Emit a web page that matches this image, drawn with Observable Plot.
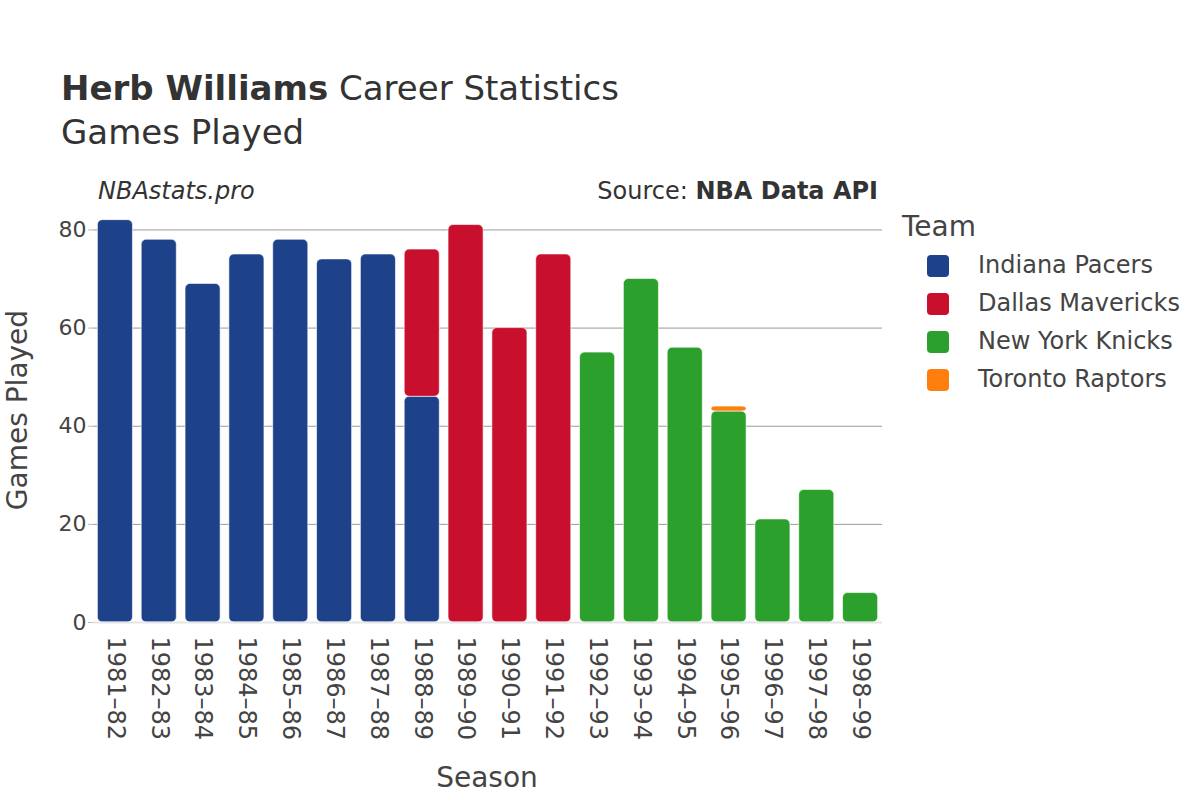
<!DOCTYPE html>
<html>
<head>
<meta charset="utf-8">
<script src="https://cdn.jsdelivr.net/npm/d3@7"></script>
<script src="https://cdn.jsdelivr.net/npm/@observablehq/plot@0.6"></script>
<style>
  html, body { margin: 0; padding: 0; background: #fff; }
  #root { position: relative; width: 1200px; height: 800px; font-family: "DejaVu Sans", sans-serif; color: #444; overflow: hidden; }
  .abs { position: absolute; white-space: nowrap; }
  #chart { position: absolute; left: 0; top: 0; }
  .leg-item { position: absolute; left: 927px; white-space: nowrap; }
  .sw { position: absolute; width: 22px; height: 22px; border-radius: 4px; }
  .lab { position: absolute; left: 51px; font-size: 24px; color: #444; white-space: nowrap; }
</style>
</head>
<body>
<div id="root">
  <div class="abs" style="left:61px; top:68px; font-size:34px; color:#333;"><b>Herb Williams</b> Career Statistics</div>
  <div class="abs" style="left:61px; top:112px; font-size:34px; color:#333;">Games Played</div>
  <div class="abs" style="left:98px; top:177px; font-size:24px; font-style:italic; color:#333;">NBAstats.pro</div>
  <div class="abs" style="right:322px; top:177px; font-size:24px; color:#333;">Source: <b>NBA Data API</b></div>
  <div id="chart"></div>
  <div class="abs" style="left:902px; top:210px; font-size:28px; color:#444;">Team</div>
  <div id="legend"></div>
  <div class="abs" style="left:17px; top:410px; font-size:28px; color:#444; transform: translate(-50%,-50%) rotate(-90deg);">Games Played</div>
  <div class="abs" style="left:487px; top:761px; font-size:28px; color:#444; transform: translateX(-50%);">Season</div>
</div>
<script>
const seasons = ["1981–82","1982–83","1983–84","1984–85","1985–86","1986–87","1987–88","1988–89","1989–90","1990–91","1991–92","1992–93","1993–94","1994–95","1995–96","1996–97","1997–98","1998–99"];
const teams = ["Indiana Pacers","Dallas Mavericks","New York Knicks","Toronto Raptors"];
const teamColors = ["#1d428a","#c8102e","#2ca02c","#ff7f0e"];
const pacersGP    = [82,78,69,75,78,74,75,46,null,null,null,null,null,null,null,null,null,null];
const mavericksGP = [null,null,null,null,null,null,null,30,81,60,75,null,null,null,null,null,null,null];
const knicksGP    = [null,null,null,null,null,null,null,null,null,null,null,55,70,56,43,21,27,6];
const raptorsGP   = [null,null,null,null,null,null,null,null,null,null,null,null,null,null,1,null,null,null];
const yTicks = [0,20,40,60,80];

const series = [pacersGP, mavericksGP, knicksGP, raptorsGP];
const rows = [];
series.forEach((vals, ti) => {
  vals.forEach((v, si) => {
    if (v != null) rows.push({season: seasons[si], team: teams[ti], games: v});
  });
});

const plot = Plot.plot({
  width: 890,
  height: 800,
  marginLeft: 93,
  marginRight: 8,
  marginTop: 200,
  marginBottom: 178,
  style: {fontFamily: "DejaVu Sans, sans-serif", fontSize: "22px", color: "#444", background: "transparent"},
  x: {domain: seasons, paddingInner: 0.2, paddingOuter: 0.1, round: false, label: null},
  y: {domain: [0, 86], label: null},
  color: {domain: teams, range: teamColors},
  marks: [
    Plot.gridY(yTicks.filter(d => d > 0), {stroke: "#999", strokeOpacity: 1, strokeWidth: 1}),
    Plot.barY(rows, {x: "season", y: "games", fill: "team", stroke: "white", strokeWidth: 0.6, rx: 5}),
    Plot.ruleY([0], {stroke: "#e6e6e6", strokeWidth: 2}),
    Plot.axisY({ticks: yTicks, tickSize: 5, tickPadding: 2, stroke: "#bbb", fill: "#444", label: null, fontSize: 22}),
    Plot.axisX({tickRotate: 90, tickSize: 0, tickPadding: 14, fill: "#444", label: null, fontSize: 24})
  ]
});
document.getElementById("chart").appendChild(plot);

const legend = document.getElementById("legend");
teams.forEach((t, i) => {
  const item = document.createElement("div");
  item.className = "leg-item";
  item.style.top = (255 + i * 38) + "px";
  item.innerHTML = `<div class="sw" style="background:${teamColors[i]}; top:0px;"></div><div class="lab" style="top:-4px;">${t}</div>`;
  legend.appendChild(item);
});
</script>
</body>
</html>
